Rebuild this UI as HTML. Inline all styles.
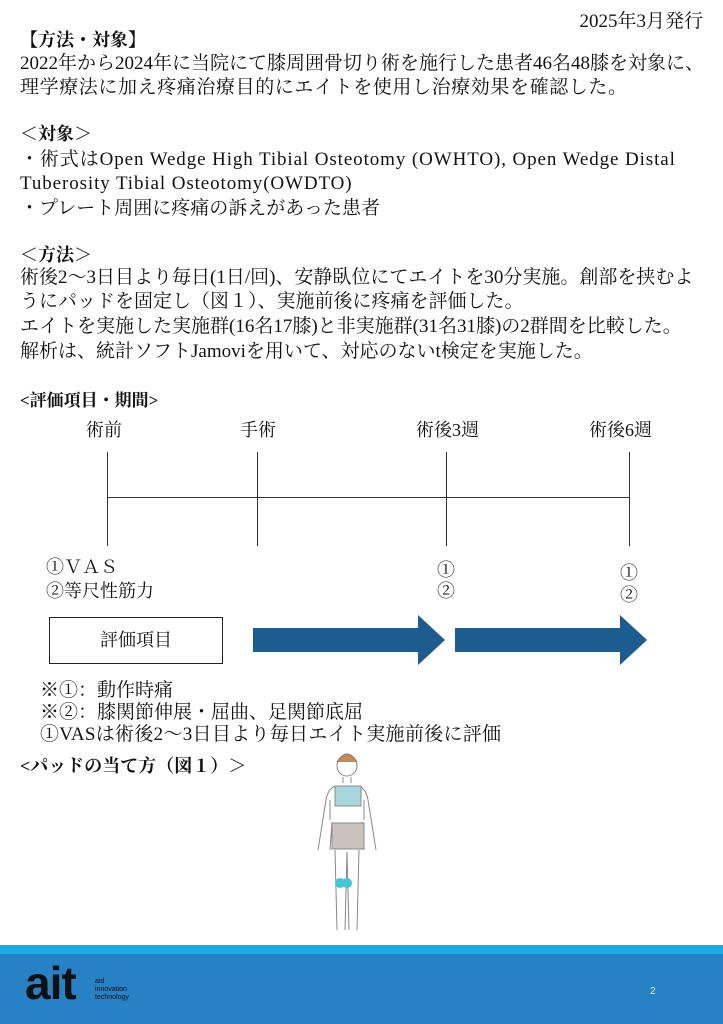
<!DOCTYPE html>
<html><head><meta charset="utf-8"><style>
body{margin:0;width:723px;height:1024px;position:relative;background:#fff;font-family:"Liberation Serif","Noto Serif CJK SC","Noto Sans CJK JP",serif;color:#111;overflow:hidden}
.t{position:absolute;white-space:nowrap;font-size:19px;line-height:22px}
.b{font-weight:bold}
.v{position:absolute;width:1px;background:#333}
.l{letter-spacing:0.9px}
</style></head><body>
<div class="t" style="right:20px;top:11px;font-size:19px">2025年3月発行</div>
<div class="t b" style="left:20px;top:29px;font-size:18px">【方法・対象】</div>
<div class="t" style="left:20px;top:53px">2022年から2024年に当院にて膝周囲骨切り術を施行した患者46名48膝を対象に、</div>
<div class="t" style="left:20px;top:77px;letter-spacing:0.6px">理学療法に加え疼痛治療目的にエイトを使用し治療効果を確認した。</div>
<div class="t b" style="left:20px;top:123px;font-size:18px">＜対象＞</div>
<div class="t l" style="left:20px;top:149px">・術式はOpen Wedge High Tibial Osteotomy (OWHTO), Open Wedge Distal</div>
<div class="t l" style="left:20px;top:173px">Tuberosity Tibial Osteotomy(OWDTO)</div>
<div class="t" style="left:20px;top:198px">・プレート周囲に疼痛の訴えがあった患者</div>
<div class="t b" style="left:20px;top:244px;font-size:18px">＜方法＞</div>
<div class="t" style="left:20px;top:267px">術後2〜3日目より毎日(1日/回)、安静臥位にてエイトを30分実施。創部を挟むよ</div>
<div class="t" style="left:20px;top:291px">うにパッドを固定し（図１）、実施前後に疼痛を評価した。</div>
<div class="t" style="left:20px;top:316px">エイトを実施した実施群(16名17膝)と非実施群(31名31膝)の2群間を比較した。</div>
<div class="t" style="left:20px;top:341px">解析は、統計ソフトJamoviを用いて、対応のないt検定を実施した。</div>
<div class="t b" style="left:20px;top:390px;font-size:17px">&lt;評価項目・期間&gt;</div>
<div class="t" style="left:86px;top:419px;font-size:18px">術前</div>
<div class="t" style="left:240px;top:419px;font-size:18px">手術</div>
<div class="t" style="left:416px;top:419px;font-size:18px">術後3週</div>
<div class="t" style="left:589px;top:419px;font-size:18px">術後6週</div>
<div class="v" style="left:107px;top:452px;height:94px"></div>
<div class="v" style="left:257px;top:452px;height:94px"></div>
<div class="v" style="left:446px;top:452px;height:94px"></div>
<div class="v" style="left:629px;top:452px;height:94px"></div>
<div style="position:absolute;left:107px;top:497px;width:522px;height:1px;background:#333"></div>
<div class="t" style="left:46px;top:556px;font-size:18px">①ＶＡＳ</div>
<div class="t" style="left:46px;top:580px;font-size:18px">②等尺性筋力</div>
<div class="t" style="left:437px;top:559px;font-size:18px">①</div>
<div class="t" style="left:437px;top:580px;font-size:18px">②</div>
<div class="t" style="left:620px;top:562px;font-size:18px">①</div>
<div class="t" style="left:620px;top:584px;font-size:18px">②</div>
<div style="position:absolute;left:49px;top:617px;width:172px;height:45px;border:1.5px solid #222"></div>
<div class="t" style="left:49px;top:629px;width:174px;text-align:center;font-size:18px">評価項目</div>
<svg style="position:absolute;left:0;top:0" width="723" height="1024">
<polygon points="253,628 418,628 418,615 445,640 418,665 418,652 253,652" fill="#1d5c8e"/>
<polygon points="455,628 620,628 620,615 647,640 620,665 620,652 455,652" fill="#1d5c8e"/>
<g stroke="#888" stroke-width="1" fill="none">
<circle cx="347" cy="766" r="10" fill="#fff"/>
<path d="M337,762 q10,-16 20,0" fill="#c08a5e" stroke="#a07050"/>
<path d="M343,777 v6 M351,777 v6"/>
<path d="M336,786 q-8,2 -10,14 l-8,50 M358,786 q8,2 10,14 l8,50"/>
<path d="M330,820 v-20 M364,820 v-20 M332,822 l-2,28 M362,822 l2,28"/>
<path d="M335,850 l2,80 M347,852 l-2,78 M359,850 l-2,80 M347,852 l2,78"/>
</g>
<rect x="335" y="786" width="26" height="20" fill="#a8d8de" stroke="#888"/>
<rect x="332" y="823" width="32" height="26" fill="#c9c3bb" stroke="#888"/>
<circle cx="340" cy="883" r="5" fill="#3ec8d8"/>
<circle cx="347" cy="883" r="5" fill="#3ec8d8"/>
</svg>
<div class="t" style="left:40px;top:680px;font-size:19px">※①：動作時痛</div>
<div class="t" style="left:40px;top:702px;font-size:19px">※②：膝関節伸展・屈曲、足関節底屈</div>
<div class="t" style="left:40px;top:724px;font-size:19px;letter-spacing:0.3px">①VASは術後2〜3日目より毎日エイト実施前後に評価</div>
<div class="t b" style="left:20px;top:755px;font-size:18px">&lt;パッドの当て方（図１）＞</div>
<div style="position:absolute;left:0;top:945px;width:723px;height:9px;background:#1eaae1"></div>
<div style="position:absolute;left:0;top:954px;width:723px;height:70px;background:#2681c5"></div>
<div style="position:absolute;left:25px;top:960px;font-family:'Liberation Sans',sans-serif;font-size:46px;line-height:46px;color:#111;letter-spacing:-1px;font-weight:bold">ait</div>
<div style="position:absolute;left:95px;top:978px;font-family:'Liberation Sans',sans-serif;font-size:7px;line-height:8px;color:#111">aid<br>innovation<br>technology</div>
<div style="position:absolute;left:650px;top:986px;font-family:'Liberation Sans',sans-serif;font-size:10px;color:#e8f2fa">2</div>
</body></html>
